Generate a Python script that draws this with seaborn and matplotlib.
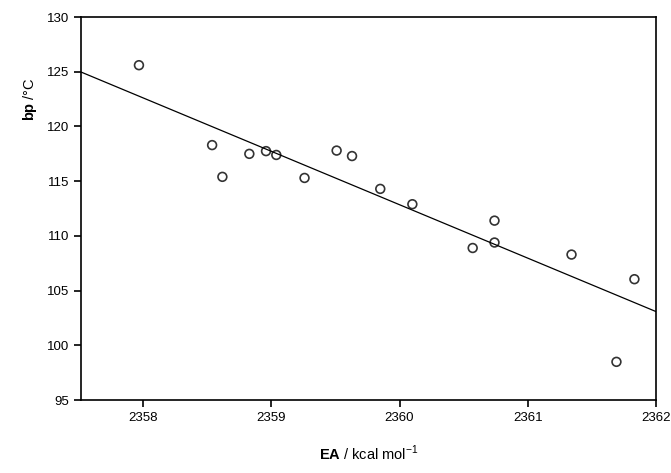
import numpy as np
import pandas as pd
import matplotlib
matplotlib.use("Agg")
import matplotlib.pyplot as plt
import seaborn as sns

sns.set_style("white")
plt.rcParams["font.family"] = ["Liberation Sans", "DejaVu Sans"]
plt.rcParams["mathtext.fontset"] = "custom"
plt.rcParams["mathtext.rm"] = "Liberation Sans"
plt.rcParams["mathtext.bf"] = "Liberation Sans:bold"
plt.rcParams["text.color"] = "black"

# electron affinity (kcal/mol) and boiling point (deg C)
ea = [2357.97, 2358.54, 2358.62, 2358.83, 2358.96, 2359.04, 2359.26, 2359.51,
      2359.63, 2359.85, 2360.10, 2360.57, 2360.74, 2360.74, 2361.34, 2361.83, 2361.69]
bp = [125.6, 118.3, 115.4, 117.5, 117.75, 117.4, 115.3, 117.8,
      117.3, 114.3, 112.9, 108.9, 109.4, 111.4, 108.3, 106.05, 98.5]

df = pd.DataFrame({"EA": ea, "bp": bp})

fig = plt.figure(figsize=(6.71, 4.73), dpi=100)
ax = fig.add_axes([0.121, 0.154, 0.857, 0.810])
ax.set_xlim(2357.52, 2362)
ax.set_ylim(95, 130)

# least-squares line drawn over the full x range
sns.regplot(data=df, x="EA", y="bp", ax=ax, ci=None, truncate=False,
            scatter_kws=dict(s=40, facecolors="none", edgecolors="black", linewidths=1.2),
            line_kws=dict(color="black", lw=0.9))

ax.set_xlim(2357.52, 2362)
ax.set_ylim(95, 130)
ax.set_xticks([2358, 2359, 2360, 2361, 2362])
ax.set_xticklabels(["2358", "2359", "2360", "2361", "2362"])
ax.set_yticks(range(95, 131, 5))
ax.tick_params(axis="both", direction="out", length=5, width=1.2, color="black",
               labelcolor="black", labelsize=9.5, bottom=True, left=True)
for s in ax.spines.values():
    s.set_color("black")
    s.set_linewidth(1.2)

ax.set_xlabel("")
ax.set_ylabel("")
fig.text(0.55, 0.022, r"$\mathbf{EA}$ / kcal mol$^{-1}$", ha="center", va="bottom", fontsize=10.5)
fig.text(0.045, 0.79, r"$\mathbf{bp}$ /°C", ha="center", va="center", rotation=90, fontsize=10.5)

fig.savefig("out.png", dpi=100)
